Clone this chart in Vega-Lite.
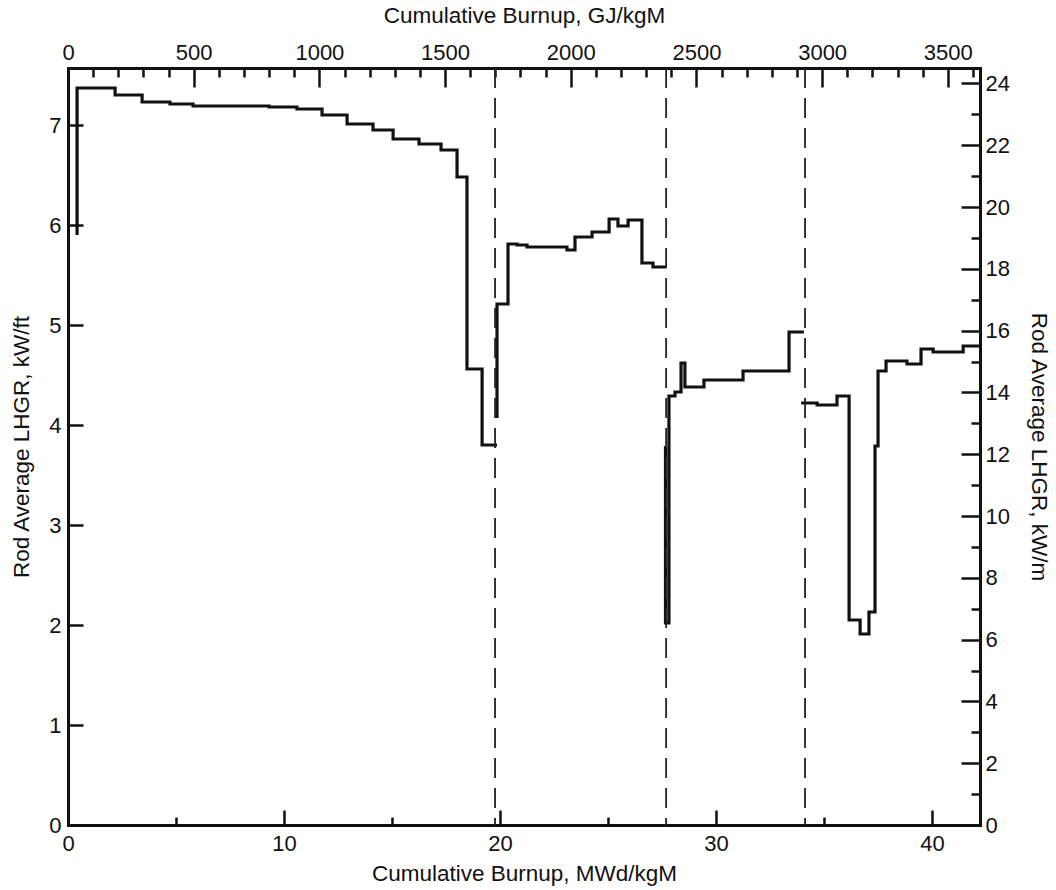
{
  "$schema": "https://vega.github.io/schema/vega-lite/v6.json",
  "autosize": {"type": "none"},
  "width": 912,
  "height": 757,
  "padding": {"left": 68, "top": 68, "right": 76, "bottom": 65},
  "background": "white",
  "datasets": {
    "history": [
      {"seg": 1, "i": 1, "burnup": 0.42, "lhgr": 5.90},
      {"seg": 1, "i": 2, "burnup": 0.42, "lhgr": 7.37},
      {"seg": 1, "i": 3, "burnup": 2.18, "lhgr": 7.30},
      {"seg": 1, "i": 4, "burnup": 3.43, "lhgr": 7.23},
      {"seg": 1, "i": 5, "burnup": 4.72, "lhgr": 7.21},
      {"seg": 1, "i": 6, "burnup": 5.79, "lhgr": 7.19},
      {"seg": 1, "i": 7, "burnup": 9.31, "lhgr": 7.18},
      {"seg": 1, "i": 8, "burnup": 10.60, "lhgr": 7.16},
      {"seg": 1, "i": 9, "burnup": 11.76, "lhgr": 7.10},
      {"seg": 1, "i": 10, "burnup": 12.92, "lhgr": 7.01},
      {"seg": 1, "i": 11, "burnup": 14.12, "lhgr": 6.95},
      {"seg": 1, "i": 12, "burnup": 15.05, "lhgr": 6.86},
      {"seg": 1, "i": 13, "burnup": 16.25, "lhgr": 6.81},
      {"seg": 1, "i": 14, "burnup": 17.27, "lhgr": 6.75},
      {"seg": 1, "i": 15, "burnup": 18.01, "lhgr": 6.48},
      {"seg": 1, "i": 16, "burnup": 18.47, "lhgr": 4.56},
      {"seg": 1, "i": 17, "burnup": 19.17, "lhgr": 3.80},
      {"seg": 1, "i": 18, "burnup": 19.86, "lhgr": 3.80},
      {"seg": 2, "i": 19, "burnup": 19.86, "lhgr": 4.07},
      {"seg": 2, "i": 20, "burnup": 19.86, "lhgr": 5.21},
      {"seg": 2, "i": 21, "burnup": 20.37, "lhgr": 5.81},
      {"seg": 2, "i": 22, "burnup": 20.79, "lhgr": 5.80},
      {"seg": 2, "i": 23, "burnup": 21.25, "lhgr": 5.78},
      {"seg": 2, "i": 24, "burnup": 23.10, "lhgr": 5.75},
      {"seg": 2, "i": 25, "burnup": 23.47, "lhgr": 5.88},
      {"seg": 2, "i": 26, "burnup": 24.26, "lhgr": 5.93},
      {"seg": 2, "i": 27, "burnup": 25.05, "lhgr": 6.06},
      {"seg": 2, "i": 28, "burnup": 25.46, "lhgr": 5.99},
      {"seg": 2, "i": 29, "burnup": 25.93, "lhgr": 6.05},
      {"seg": 2, "i": 30, "burnup": 26.57, "lhgr": 5.62},
      {"seg": 2, "i": 31, "burnup": 27.08, "lhgr": 5.58},
      {"seg": 2, "i": 32, "burnup": 27.69, "lhgr": 5.58},
      {"seg": 3, "i": 33, "burnup": 27.66, "lhgr": 3.79},
      {"seg": 3, "i": 34, "burnup": 27.66, "lhgr": 2.02},
      {"seg": 3, "i": 35, "burnup": 27.82, "lhgr": 4.29},
      {"seg": 3, "i": 36, "burnup": 28.10, "lhgr": 4.33},
      {"seg": 3, "i": 37, "burnup": 28.38, "lhgr": 4.62},
      {"seg": 3, "i": 38, "burnup": 28.56, "lhgr": 4.38},
      {"seg": 3, "i": 39, "burnup": 29.44, "lhgr": 4.45},
      {"seg": 3, "i": 40, "burnup": 31.25, "lhgr": 4.54},
      {"seg": 3, "i": 41, "burnup": 33.38, "lhgr": 4.93},
      {"seg": 3, "i": 42, "burnup": 34.07, "lhgr": 4.93},
      {"seg": 4, "i": 43, "burnup": 33.94, "lhgr": 4.22},
      {"seg": 4, "i": 44, "burnup": 34.68, "lhgr": 4.20},
      {"seg": 4, "i": 45, "burnup": 35.60, "lhgr": 4.29},
      {"seg": 4, "i": 46, "burnup": 36.16, "lhgr": 2.05},
      {"seg": 4, "i": 47, "burnup": 36.67, "lhgr": 1.91},
      {"seg": 4, "i": 48, "burnup": 37.08, "lhgr": 2.13},
      {"seg": 4, "i": 49, "burnup": 37.36, "lhgr": 3.79},
      {"seg": 4, "i": 50, "burnup": 37.50, "lhgr": 4.54},
      {"seg": 4, "i": 51, "burnup": 37.87, "lhgr": 4.64},
      {"seg": 4, "i": 52, "burnup": 38.84, "lhgr": 4.61},
      {"seg": 4, "i": 53, "burnup": 39.49, "lhgr": 4.76},
      {"seg": 4, "i": 54, "burnup": 40.05, "lhgr": 4.73},
      {"seg": 4, "i": 55, "burnup": 41.44, "lhgr": 4.79},
      {"seg": 4, "i": 56, "burnup": 42.22, "lhgr": 4.79}
    ],
    "shutdowns": [
      {"burnup": 19.77},
      {"burnup": 27.69},
      {"burnup": 34.12}
    ],
    "frame": [
      {"gj": 0, "kwm": 0}
    ]
  },
  "layer": [
    {
      "encoding": {
        "x": {
          "field": "burnup",
          "type": "quantitative",
          "scale": {"domain": [0, 42.22], "nice": false, "zero": false},
          "axis": {
            "orient": "bottom",
            "title": "Cumulative Burnup, MWd/kgM",
            "values": [0, 5, 10, 15, 20, 25, 30, 35, 40],
            "tickSize": {"condition": {"test": "datum.value % 10 === 0", "value": -15}, "value": -8},
            "labelExpr": "datum.value % 10 === 0 ? datum.label : ''",
            "labelPadding": 23.5,
            "titlePadding": 1
          }
        }
      },
      "layer": [
        {
          "data": {"name": "history"},
          "mark": {"type": "line", "interpolate": "step-after", "stroke": "#111111", "strokeWidth": 3.2, "strokeJoin": "miter", "strokeCap": "butt"},
          "encoding": {
            "y": {
              "field": "lhgr",
              "type": "quantitative",
              "scale": {"domain": [0, 7.57], "nice": false, "zero": false},
              "axis": {
                "orient": "left",
                "title": "Rod Average LHGR, kW/ft",
                "values": [0, 1, 2, 3, 4, 5, 6, 7],
                "tickSize": -15,
                "labelPadding": 22,
                "titlePadding": 15
              }
            },
            "detail": {"field": "seg", "type": "nominal"},
            "order": {"field": "i", "type": "quantitative"}
          }
        },
        {
          "data": {"name": "shutdowns"},
          "mark": {"type": "rule", "stroke": "#222222", "strokeWidth": 1.8, "strokeDash": [20, 10]},
          "encoding": {}
        }
      ]
    },
    {
      "data": {"name": "frame"},
      "mark": {"type": "point", "opacity": 0},
      "encoding": {
        "x": {
          "field": "gj",
          "type": "quantitative",
          "scale": {"domain": [0, 3628], "nice": false, "zero": false},
          "axis": {
            "orient": "top",
            "title": "Cumulative Burnup, GJ/kgM",
            "values": [0, 100, 200, 300, 400, 500, 600, 700, 800, 900, 1000, 1100, 1200, 1300, 1400, 1500, 1600, 1700, 1800, 1900, 2000, 2100, 2200, 2300, 2400, 2500, 2600, 2700, 2800, 2900, 3000, 3100, 3200, 3300, 3400, 3500, 3600],
            "tickSize": {"condition": {"test": "datum.value % 500 === 0", "value": -19}, "value": -9},
            "labelExpr": "datum.value % 500 === 0 ? datum.label : ''",
            "format": "d",
            "labelPadding": 23,
            "titlePadding": 4
          }
        },
        "y": {
          "field": "kwm",
          "type": "quantitative",
          "scale": {"domain": [0, 24.5], "nice": false, "zero": false},
          "axis": {
            "orient": "right",
            "title": "Rod Average LHGR, kW/m",
            "values": [0, 1, 2, 3, 4, 5, 6, 7, 8, 9, 10, 11, 12, 13, 14, 15, 16, 17, 18, 19, 20, 21, 22, 23, 24],
            "tickSize": {"condition": {"test": "datum.value % 2 === 0", "value": -19}, "value": -9},
            "labelExpr": "datum.value % 2 === 0 ? datum.label : ''",
            "labelPadding": 24,
            "titlePadding": 17
          }
        }
      }
    }
  ],
  "resolve": {"scale": {"x": "independent", "y": "independent"}},
  "config": {
    "font": "Liberation Sans",
    "view": {"stroke": null},
    "axis": {
      "grid": false,
      "domainColor": "#111111",
      "domainWidth": 3,
      "domainCap": "square",
      "tickColor": "#111111",
      "tickWidth": 2.5,
      "labelColor": "#111111",
      "titleColor": "#111111",
      "labelFont": "Liberation Sans",
      "labelFontSize": 22,
      "titleFont": "Liberation Sans",
      "titleFontSize": 22.5,
      "titleFontWeight": "normal",
      "labelFlush": false,
      "labelOverlap": false
    }
  }
}
